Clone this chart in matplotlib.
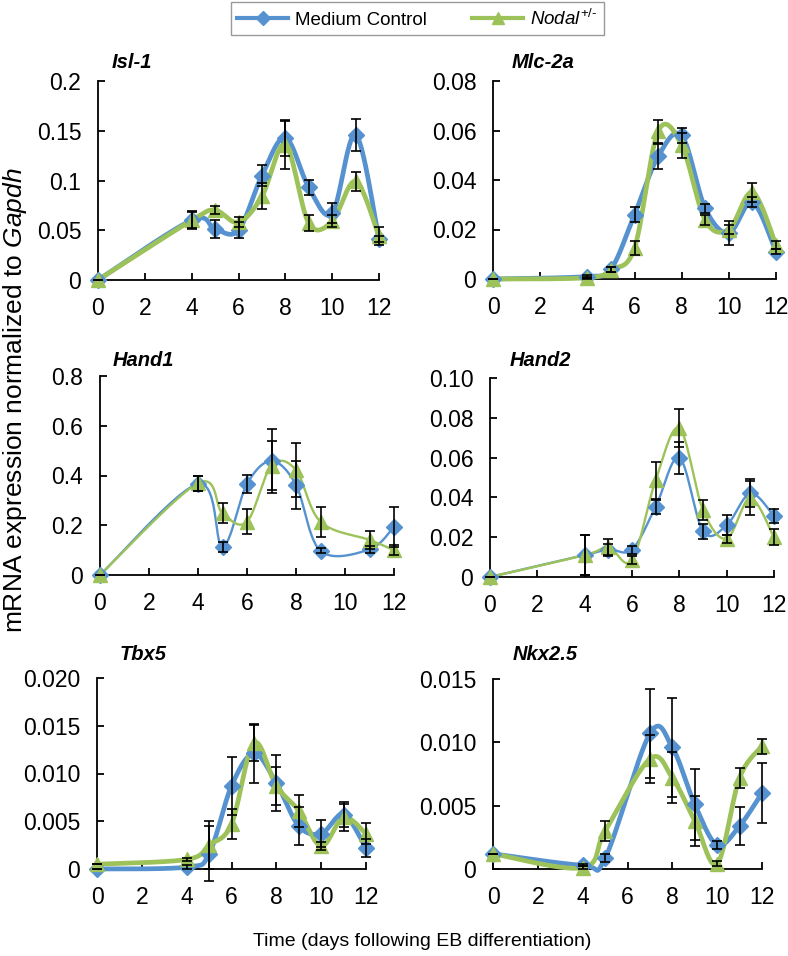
import numpy as np
import matplotlib
matplotlib.use("Agg")
import matplotlib.pyplot as plt
from matplotlib.lines import Line2D

plt.rcParams['font.family'] = ['Liberation Sans', 'DejaVu Sans']
plt.rcParams['mathtext.fontset'] = 'custom'
plt.rcParams['mathtext.rm'] = 'Liberation Sans'
plt.rcParams['mathtext.it'] = 'Liberation Sans:italic'
plt.rcParams['mathtext.bf'] = 'Liberation Sans:bold'

# ---- data ----
days = [0, 4, 5, 6, 7, 8, 9, 10, 11, 12]
hand1_days = [0, 4, 5, 6, 7, 8, 9, 11, 12]
nkx_days = [0, 4, 5, 7, 8, 9, 10, 11, 12]

isl1_ctrl = [0, 0.060, 0.051, 0.050, 0.105, 0.143, 0.093, 0.067, 0.146, 0.041]
isl1_ctrl_err = [0, 0.009, 0.009, 0.008, 0.011, 0.018, 0.008, 0.010, 0.016, 0.003]
isl1_nodal = [0, 0.060, 0.070, 0.058, 0.084, 0.136, 0.057, 0.059, 0.099, 0.044]
isl1_nodal_err = [0, 0.008, 0.004, 0.005, 0.013, 0.024, 0.008, 0.006, 0.010, 0.009]

mlc_ctrl = [0, 0.001, 0.004, 0.026, 0.0495, 0.058, 0.0285, 0.0186, 0.031, 0.011]
mlc_ctrl_err = [0, 0.0005, 0.001, 0.003, 0.005, 0.003, 0.002, 0.005, 0.002, 0.001]
mlc_nodal = [0, 0.0005, 0.0038, 0.0125, 0.0596, 0.054, 0.0237, 0.020, 0.035, 0.0138]
mlc_nodal_err = [0, 0.0005, 0.001, 0.003, 0.0045, 0.005, 0.002, 0.002, 0.0038, 0.0015]

hand1_ctrl = [0, 0.366, 0.114, 0.366, 0.458, 0.362, 0.097, 0.103, 0.194]
hand1_ctrl_err = [0, 0.03, 0.02, 0.035, 0.13, 0.095, 0.01, 0.015, 0.08]
hand1_nodal = [0, 0.369, 0.248, 0.214, 0.44, 0.422, 0.214, 0.141, 0.100]
hand1_nodal_err = [0, 0.03, 0.04, 0.05, 0.10, 0.11, 0.06, 0.035, 0.02]

hand2_ctrl = [0, 0.011, 0.0138, 0.0138, 0.0353, 0.060, 0.023, 0.026, 0.042, 0.0306]
hand2_ctrl_err = [0, 0.010, 0.003, 0.002, 0.0035, 0.008, 0.0037, 0.005, 0.007, 0.0036]
hand2_nodal = [0, 0.011, 0.015, 0.0084, 0.0487, 0.0748, 0.0336, 0.0193, 0.0395, 0.020]
hand2_nodal_err = [0, 0.010, 0.004, 0.002, 0.0093, 0.0096, 0.005, 0.002, 0.0085, 0.004]

tbx5_ctrl = [0, 0.0002, 0.0016, 0.0087, 0.0121, 0.0090, 0.0045, 0.0037, 0.0057, 0.0022]
tbx5_ctrl_err = [0, 0.0002, 0.0029, 0.003, 0.0031, 0.0029, 0.002, 0.0014, 0.0013, 0.0009]
tbx5_nodal = [0.0005, 0.001, 0.0025, 0.0047, 0.0132, 0.0087, 0.0061, 0.0024, 0.0054, 0.0037]
tbx5_nodal_err = [0, 0.0002, 0.0025, 0.0016, 0.0019, 0.002, 0.0017, 0.0004, 0.0014, 0.0011]

nkx_ctrl = [0.0012, 0.0003, 0.00085, 0.0107, 0.0096, 0.0051, 0.0019, 0.0034, 0.006]
nkx_ctrl_err = [0, 0.0001, 0.0003, 0.0035, 0.0039, 0.0028, 0.0003, 0.0015, 0.0024]
nkx_nodal = [0.0012, 0.0001, 0.003, 0.0087, 0.0072, 0.0038, 0.0004, 0.0072, 0.0097]
nkx_nodal_err = [0, 0.0001, 0.0008, 0.0019, 0.002, 0.002, 0.0002, 0.0008, 0.0006]

xticks = [0, 2, 4, 6, 8, 10, 12]
isl1_yticks = [0, 0.05, 0.1, 0.15, 0.2]
isl1_ylabels = ['0', '0.05', '0.1', '0.15', '0.2']
mlc_yticks = [0, 0.02, 0.04, 0.06, 0.08]
mlc_ylabels = ['0', '0.02', '0.04', '0.06', '0.08']
hand1_yticks = [0, 0.2, 0.4, 0.6, 0.8]
hand1_ylabels = ['0', '0.2', '0.4', '0.6', '0.8']
hand2_yticks = [0, 0.02, 0.04, 0.06, 0.08, 0.10]
hand2_ylabels = ['0', '0.02', '0.04', '0.06', '0.08', '0.10']
tbx5_yticks = [0, 0.005, 0.010, 0.015, 0.020]
tbx5_ylabels = ['0', '0.005', '0.010', '0.015', '0.020']
nkx_yticks = [0, 0.005, 0.010, 0.015]
nkx_ylabels = ['0', '0.005', '0.010', '0.015']

blue = '#5692CF'
green = '#9DC25A'

W, H = 788, 956
fig = plt.figure(figsize=(W / 100, H / 100), dpi=100)


def smooth(x, y, n=30):
    # excel style smoothed line: bezier through the points
    p = np.column_stack([x, y]).astype(float)
    p = np.vstack([p[0], p, p[-1]])
    t = np.linspace(0, 1, n)[:, None]
    segs = []
    for i in range(1, len(p) - 2):
        p0, p1, p2, p3 = p[i - 1], p[i], p[i + 1], p[i + 2]
        c1 = p1 + (p2 - p0) / 6
        c2 = p2 - (p3 - p1) / 6
        segs.append((1 - t) ** 3 * p1 + 3 * (1 - t) ** 2 * t * c1
                    + 3 * (1 - t) * t ** 2 * c2 + t ** 3 * p2)
    s = np.vstack(segs)
    return s[:, 0], s[:, 1]


def panel(box, title, title_xy, x, c, ce, nd, ne, yticks, ylabels, lw):
    left, top, right, bottom = box
    ax = fig.add_axes([left / W, 1 - bottom / H, (right - left) / W, (bottom - top) / H])
    for y, e, col, mk, ms in [(c, ce, blue, 'D', 8), (nd, ne, green, '^', 10.5)]:
        sx, sy = smooth(x, y)
        ax.plot(sx, sy, color=col, lw=lw, clip_on=False, zorder=3)
        ax.plot(x, y, ls='none', marker=mk, ms=ms, color=col, mec=col, clip_on=False, zorder=4)
    for y, e in [(c, ce), (nd, ne)]:
        ax.errorbar(x, y, yerr=e, fmt='none', ecolor='black', elinewidth=1.2,
                    capsize=3.5, capthick=1.2, clip_on=False, zorder=5)
    ax.set_xlim(0, 12)
    ax.set_ylim(0, yticks[-1])
    ax.set_xticks(xticks)
    ax.set_yticks(yticks)
    ax.set_yticklabels(ylabels)
    ax.spines['top'].set_visible(False)
    ax.spines['right'].set_visible(False)
    for s in ['left', 'bottom']:
        ax.spines[s].set_linewidth(1.3)
    ax.tick_params(axis='x', direction='in', length=5, width=1.3, labelsize=16.5, pad=12)
    ax.tick_params(axis='y', direction='in', length=5, width=1.3, labelsize=16.5, pad=12)
    fig.text(title_xy[0] / W, 1 - title_xy[1] / H, title, fontsize=14.5,
             fontweight='bold', fontstyle='italic', ha='left', va='center')
    return ax


panel((98, 81, 379, 280), 'Isl-1', (112, 63), days, isl1_ctrl, isl1_ctrl_err,
      isl1_nodal, isl1_nodal_err, isl1_yticks, isl1_ylabels, 3.4)
panel((493, 81, 776, 279), 'Mlc-2a', (512, 63), days, mlc_ctrl, mlc_ctrl_err,
      mlc_nodal, mlc_nodal_err, mlc_yticks, mlc_ylabels, 3.4)
panel((100, 376, 394, 575), 'Hand1', (113, 360), hand1_days, hand1_ctrl, hand1_ctrl_err,
      hand1_nodal, hand1_nodal_err, hand1_yticks, hand1_ylabels, 1.7)
panel((490, 378, 774, 577), 'Hand2', (510, 360), days, hand2_ctrl, hand2_ctrl_err,
      hand2_nodal, hand2_nodal_err, hand2_yticks, hand2_ylabels, 1.7)
panel((97, 678, 366, 869), 'Tbx5', (120, 655), days, tbx5_ctrl, tbx5_ctrl_err,
      tbx5_nodal, tbx5_nodal_err, tbx5_yticks, tbx5_ylabels, 3.4)
panel((493, 679, 762, 869), 'Nkx2.5', (513, 655), nkx_days, nkx_ctrl, nkx_ctrl_err,
      nkx_nodal, nkx_nodal_err, nkx_yticks, nkx_ylabels, 3.4)

fig.text(15 / W, 1 - 400 / H, r'mRNA expression normalized to $\mathit{Gapdh}$',
         rotation=90, fontsize=19, ha='center', va='center')
fig.text(422 / W, 1 - 942 / H, 'Time (days following EB differentiation)',
         fontsize=14, ha='center', va='center')

handles = [Line2D([], [], color=blue, lw=3, marker='D', ms=7),
           Line2D([], [], color=green, lw=3, marker='^', ms=8)]
fig.legend(handles, ['Medium Control', '$\\mathit{Nodal}^{\\mathrm{+/\u2010}}$'],
           loc='upper center', bbox_to_anchor=(417.5 / W, 1 - 2 / H), ncol=2,
           fontsize=13.5, frameon=True, fancybox=False, edgecolor='#999999',
           handlelength=2.7, handletextpad=0.4, columnspacing=2.4,
           borderpad=0.35, borderaxespad=0, framealpha=1)

fig.savefig('out.png', dpi=100)
